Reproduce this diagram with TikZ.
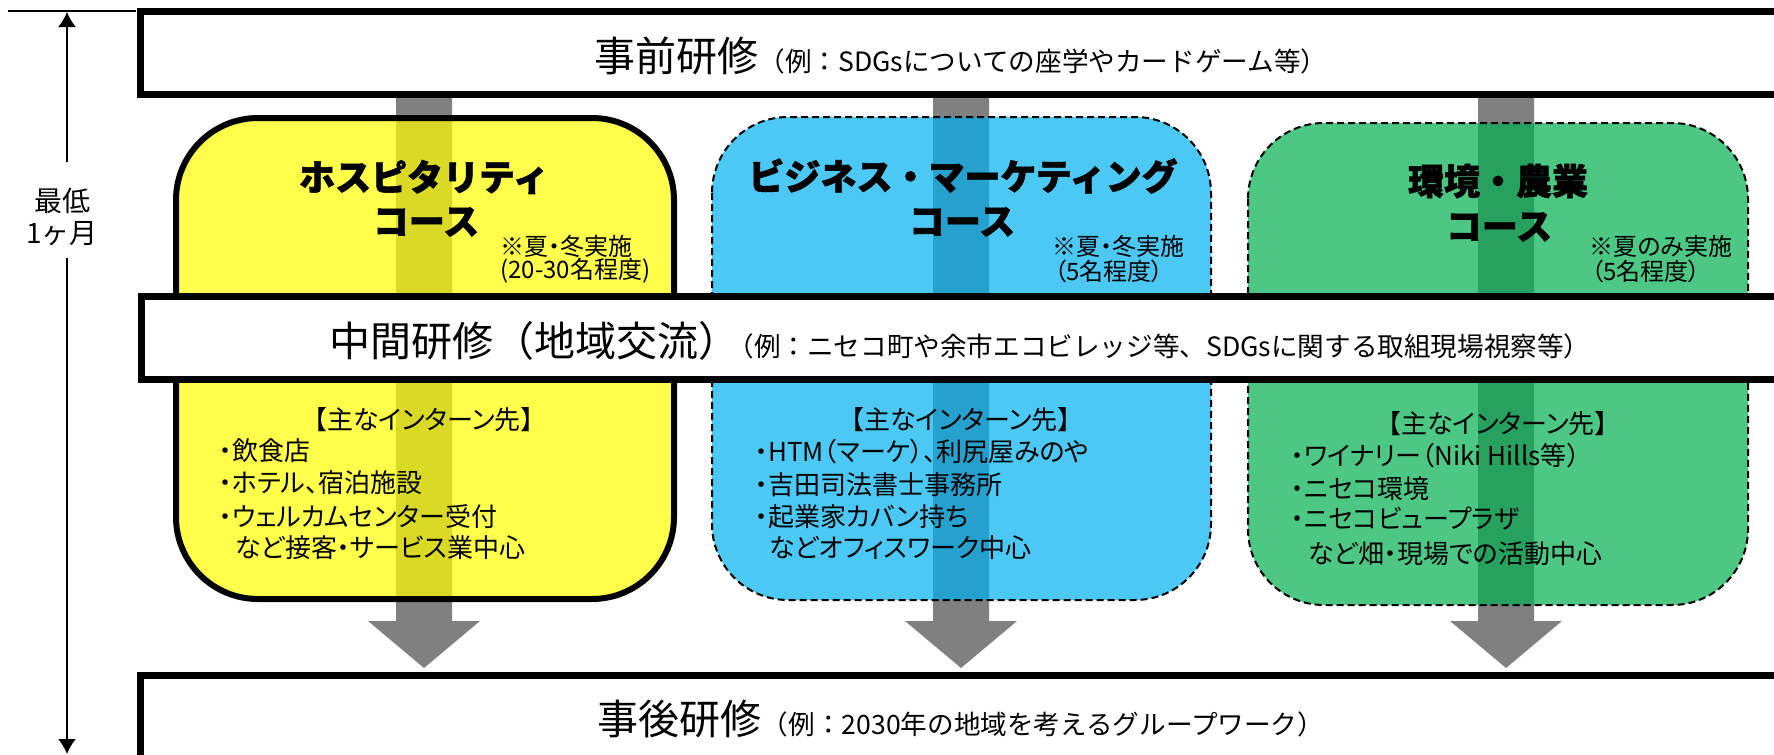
\documentclass[tikz,border=0pt]{standalone}
\usepackage{fontspec}
\setmainfont{Noto Sans CJK JP}
\newfontfamily\jpp[RawFeature=+palt]{Noto Sans CJK JP}
\newfontfamily\jpheavy[BoldFeatures={FakeBold=1.5}]{Noto Sans CJK JP}
\usetikzlibrary{arrows.meta}
\definecolor{arrgray}{HTML}{808080}
\definecolor{cyel}{HTML}{FFFF00}
\definecolor{cblue}{HTML}{00B0F0}
\definecolor{cgreen}{HTML}{00B050}
\newcommand\fBig{\fontsize{20.5pt}{24pt}\selectfont}
\newcommand\fEx{\fontsize{13.3pt}{15pt}\selectfont}
\newcommand\fTitle{\jpheavy\fontsize{18pt}{21pt}\selectfont\bfseries}
\newcommand\fNote{\jpp\fontsize{12pt}{14pt}\selectfont}
\newcommand\fList{\jpp\fontsize{13pt}{15pt}\selectfont}
\newcommand\fSide{\fontsize{14pt}{16pt}\selectfont}
\begin{document}
\begin{tikzpicture}[x=0.5pt,y=-0.5pt,
  frame/.style={draw=black,line width=3.5pt,fill=white},
  ybox/.style={draw=black,line width=3pt,fill=cyel,fill opacity=0.7,rounded corners=41pt},
  dbox/.style={draw=black,line width=1pt,dash pattern=on 3.5pt off 2pt,fill opacity=0.7,rounded corners=38pt},
  txt/.style={inner sep=0pt},
  lst/.style={inner sep=0pt,anchor=west,font=\fList},
  note/.style={inner sep=0pt,anchor=west,font=\fNote},
  ttl/.style={inner sep=0pt,font=\fTitle},
  hdr/.style={inner sep=0pt,font=\fList},
  blk/.style={fill=arrgray}]
\useasboundingbox (0,0) rectangle (1774,755);

% block arrows (behind everything)
\foreach \cx in {424,961,1506}{
  \fill[blk] (\cx-28,90) -- (\cx+28,90) -- (\cx+28,621) -- (\cx+56,621)
     -- (\cx,668) -- (\cx-56,621) -- (\cx-28,621) -- cycle;
}

% top frame
\draw[frame] (140,11.5) rectangle (1786,94.5);

% course boxes
\draw[ybox] (176,118) rectangle (674,599);
\draw[dbox,fill=cblue] (712,117) rectangle (1211,600);
\draw[dbox,fill=cgreen] (1248,123) rectangle (1748,605);

% middle band
\draw[frame] (141,296.5) rectangle (1786,379.5);

% bottom frame
\draw[frame] (140,675) rectangle (1786,790);

% left time line
\draw[line width=0.6pt] (8,11) -- (136,11);
\coordinate (vtop) at (67,12);
\coordinate (vgt) at (67,162);
\coordinate (vgb) at (67,258);
\coordinate (vbot) at (67,754);
\draw[line width=0.9pt,-{Latex[length=7.5pt,width=9pt]}] (vgt) -- (vtop);
\draw[line width=0.9pt,-{Latex[length=7.5pt,width=9pt]}] (vgb) -- (vbot);
\node[txt,font=\fSide] (side1) at (62,201) {最低};
\node[txt,font=\fSide] (side2) at (62,234) {1ヶ月};

% band texts
\node[txt] (pre) at (961,56) {\fBig 事前研修\fEx （例：SDGsについての座学やカードゲーム等）};
\node[txt] (mid) at (960,341) {\fBig 中間研修（地域交流）\hspace{-6pt}\fEx （例：ニセコ町や余市エコビレッジ等、SDGsに関する取組現場視察等）};
\node[txt] (post) at (961,719) {\fBig 事後研修\fEx （例：2030年の地域を考えるグループワーク）};

% yellow course
\node[ttl] (yt1) at (424,177) {ホスピタリティ};
\node[ttl] (yt2) at (426,222) {コース};
\node[note] (yn1) at (500,246) {※夏・冬実施};
\node[note] (yn2) at (500,271) {(20-30名程度)};
\node[hdr] (yh) at (424,420) {【主なインターン先】};
\node[lst] (yl1) at (219,451) {・飲食店};
\node[lst] (yl2) at (219,483) {・ホテル、宿泊施設};
\node[lst] (yl3) at (219,517) {・ウェルカムセンター受付};
\node[lst] (yl4) at (235,548) {など接客・サービス業中心};

% blue course
\node[ttl] (bt1) at (963,176) {ビジネス・マーケティング};
\node[ttl] (bt2) at (962,222) {コース};
\node[note] (bn1) at (1052,246) {※夏・冬実施};
\node[note] (bn2) at (1054,271) {（5名程度）};
\node[hdr] (bh) at (961,420) {【主なインターン先】};
\node[lst] (bl1) at (755,452) {・HTM（マーケ）、利尻屋みのや};
\node[lst] (bl2) at (755,485) {・吉田司法書士事務所};
\node[lst] (bl3) at (755,517) {・起業家カバン持ち};
\node[lst] (bl4) at (769,548) {などオフィスワーク中心};

% green course
\node[ttl] (gt1) at (1498,181) {環境・農業};
\node[ttl] (gt2) at (1499,227) {コース};
\node[note] (gn1) at (1589,246) {※夏のみ実施};
\node[note] (gn2) at (1591,271) {（5名程度）};
\node[hdr] (gh) at (1498,424) {【主なインターン先】};
\node[lst] (gl1) at (1291,456) {・ワイナリー（Niki Hills等）};
\node[lst] (gl2) at (1291,489) {・ニセコ環境};
\node[lst] (gl3) at (1291,519) {・ニセコビュープラザ};
\node[lst] (gl4) at (1308,554) {など畑・現場での活動中心};
\end{tikzpicture}
\end{document}
